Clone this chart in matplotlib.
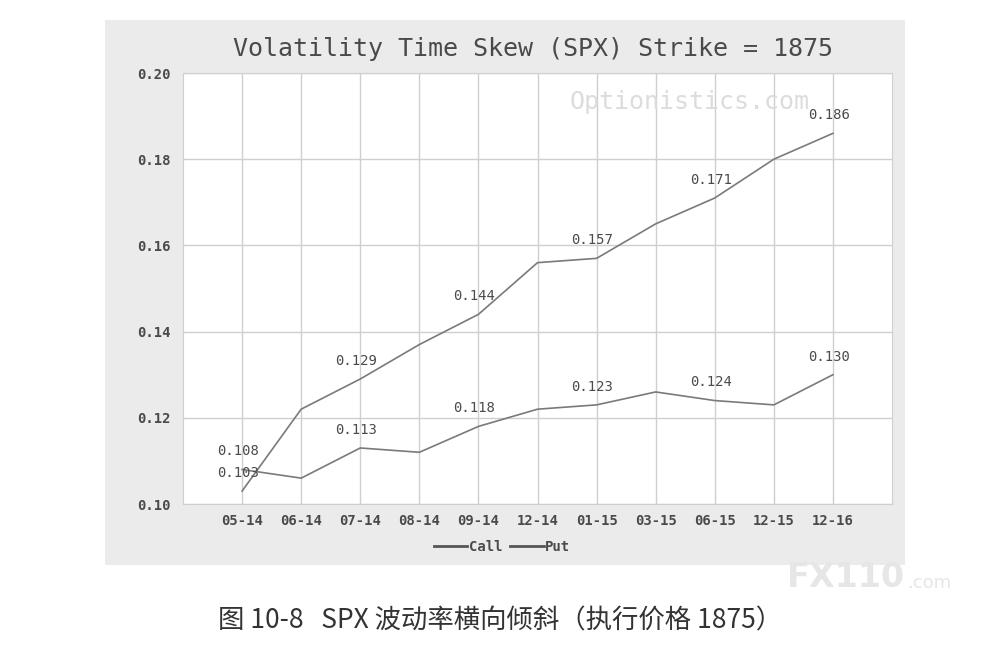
import matplotlib.pyplot as plt
from matplotlib.patches import Rectangle

# expiration months on the x axis
months = ["05-14", "06-14", "07-14", "08-14", "09-14", "12-14",
          "01-15", "03-15", "06-15", "12-15", "12-16"]

# implied volatilities
call_iv = [0.103, 0.122, 0.129, 0.137, 0.144, 0.156,
           0.157, 0.165, 0.171, 0.180, 0.186]
put_iv = [0.108, 0.106, 0.113, 0.112, 0.118, 0.122,
          0.123, 0.126, 0.124, 0.123, 0.130]

y_ticks = [0.10, 0.12, 0.14, 0.16, 0.18, 0.20]

mono = "DejaVu Sans Mono"
line_col = "#7a7a7a"
txt_col = "#4a4a4a"

fig = plt.figure(figsize=(10.06, 6.45), dpi=100)
fig.patch.set_facecolor("white")

# grey chart panel behind the plot
fig.patches.append(Rectangle((0.1044, 0.124), 0.7952, 0.845,
                             transform=fig.transFigure, facecolor="#ebebeb",
                             edgecolor="none", zorder=-5))

ax = fig.add_axes([0.1819, 0.2186, 0.7048, 0.6682])
ax.set_facecolor("white")

x = list(range(len(months)))
ax.plot(x, call_iv, color=line_col, lw=1.2, label="Call", zorder=3)
ax.plot(x, put_iv, color=line_col, lw=1.2, label="Put", zorder=3)

# value labels on every other point
for i in range(0, len(months), 2):
    ax.annotate(f"{call_iv[i]:.3f}", (i, call_iv[i]), xytext=(-3, 8),
                textcoords="offset points", ha="center", va="bottom",
                fontsize=10, family=mono, color=txt_col, zorder=4)
    ax.annotate(f"{put_iv[i]:.3f}", (i, put_iv[i]), xytext=(-3, 8),
                textcoords="offset points", ha="center", va="bottom",
                fontsize=10, family=mono, color=txt_col, zorder=4)

ax.set_xlim(-1, len(months))
ax.set_ylim(0.10, 0.20)
ax.set_xticks(x)
ax.set_xticklabels(months, family=mono, fontsize=10, fontweight="bold",
                   color=txt_col)
ax.set_yticks(y_ticks)
ax.set_yticklabels([f"{v:.2f}" for v in y_ticks], family=mono, fontsize=10,
                   fontweight="bold", color=txt_col)
ax.tick_params(axis="both", which="both", length=0)
ax.tick_params(axis="x", pad=7)
ax.tick_params(axis="y", pad=9)
ax.grid(True, which="major", color="#cfcfcf", lw=1)
for s in ax.spines.values():
    s.set_color("#cfcfcf")

ax.text(0.715, 0.933, "Optionistics.com", transform=ax.transAxes,
        ha="center", va="center", fontsize=18, family=mono,
        color="#dcdcdc", zorder=2)

fig.text(0.53, 0.924, "Volatility Time Skew (SPX) Strike = 1875",
         ha="center", va="center", fontsize=18, family=mono, color=txt_col)

leg = ax.legend(loc="upper center", bbox_to_anchor=(0.45, -0.055), ncol=2,
                frameon=False, handlelength=2.4, handletextpad=0.1,
                columnspacing=0.6, prop={"family": mono, "size": 10,
                                         "weight": "bold"})
for h in leg.get_lines():
    h.set_color("#555555")
    h.set_linewidth(2)
for t in leg.get_texts():
    t.set_color(txt_col)

fig.text(0.9, 0.104, "FX110", ha="right", va="center", fontsize=24,
         fontweight="bold", family="DejaVu Sans", color="#e6e6e6")
fig.text(0.902, 0.096, ".com", ha="left", va="center", fontsize=13,
         family="DejaVu Sans", color="#e6e6e6")

fig.text(0.497, 0.038, "图 10-8   SPX 波动率横向倾斜（执行价格 1875）",
         ha="center", va="center", fontsize=19,
         family=["Noto Sans CJK SC", "DejaVu Sans"], color="#333333")

fig.savefig("out.png", dpi=100)
